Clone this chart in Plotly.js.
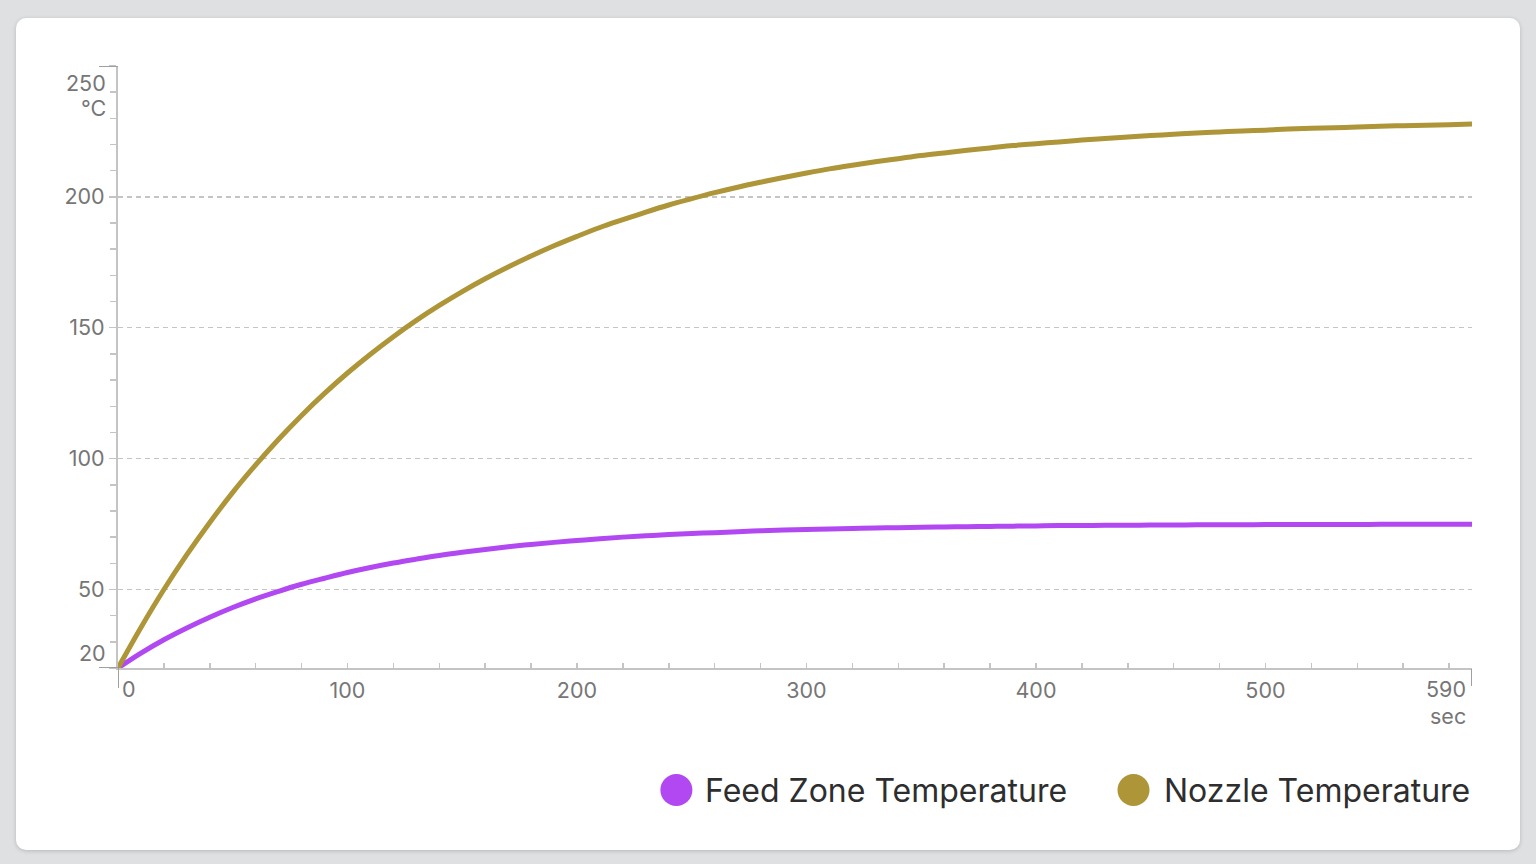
<!DOCTYPE html>
<html>
<head>
<meta charset="utf-8">
<script src="https://cdn.plot.ly/plotly-3.0.1.min.js"></script>
<style>
  html, body { margin:0; padding:0; width:1536px; height:864px; background:#dfe0e2; overflow:hidden; }
  #card { position:absolute; left:16px; top:18px; width:1504px; height:832px; background:#ffffff; border-radius:10px; box-shadow:0 1px 4px rgba(0,0,0,0.18); }
  #chart { position:absolute; left:0; top:0; width:1536px; height:864px; }
</style>
</head>
<body>
<div id="card"></div>
<div id="chart"></div>
<script>
// time in seconds
const timeSec = [0,10,20,30,40,50,60,70,80,90,100,110,120,130,140,150,160,170,180,190,200,210,220,230,240,250,260,270,280,290,300,310,320,330,340,350,360,370,380,390,400,410,420,430,440,450,460,470,480,490,500,510,520,530,540,550,560,570,580,590];
const feedZoneTemp = [20,25.7,30.8,35.3,39.4,43.1,46.4,49.3,52.0,54.3,56.5,58.4,60.1,61.6,63.0,64.2,65.3,66.3,67.2,68.0,68.7,69.4,70.0,70.5,71.0,71.4,71.7,72.1,72.4,72.7,72.9,73.1,73.3,73.5,73.6,73.8,73.9,74.0,74.1,74.2,74.3,74.4,74.4,74.5,74.5,74.6,74.6,74.7,74.7,74.7,74.8,74.8,74.8,74.8,74.8,74.9,74.9,74.9,74.9,74.9];
const nozzleTemp = [20,35.5,50.0,63.3,75.6,87.1,97.6,107.4,116.5,124.9,132.7,139.9,146.6,152.8,158.5,163.8,168.7,173.2,177.4,181.3,184.9,188.3,191.3,194.2,196.9,199.3,201.6,203.7,205.6,207.4,209.1,210.7,212.1,213.4,214.6,215.8,216.8,217.8,218.7,219.6,220.3,221.0,221.7,222.3,222.9,223.4,223.9,224.4,224.8,225.2,225.5,225.9,226.2,226.4,226.7,227.0,227.2,227.4,227.6,227.8];
const seriesNames = ["Feed Zone Temperature", "Nozzle Temperature"];
const seriesColors = ["#b148f2", "#ad9538"];
const yTickVals = [20,50,100,150,200,250];
const yTickText = ["","50","100","150","200",""];
const xTickVals = [0,100,200,300,400,500,590];
const xTickText = ["","100","200","300","400","500",""];
const yUnit = "°C";
const xUnit = "sec";

const tickFont = {family:"Inter, 'Noto Sans', sans-serif", size:21.5, color:"#767676"};
const legendFont = {family:"Inter, 'Noto Sans', sans-serif", size:32, color:"#2e2e2e"};

const traces = [
  {x: timeSec, y: feedZoneTemp, name: seriesNames[0], mode:"lines", line:{color:seriesColors[0], width:5, shape:"spline"}, showlegend:false, hoverinfo:"skip"},
  {x: timeSec, y: nozzleTemp, name: seriesNames[1], mode:"lines", line:{color:seriesColors[1], width:5, shape:"spline"}, showlegend:false, hoverinfo:"skip"}
];

const annotations = [
  {x:0, y:yTickVals[0], xref:"x", yref:"y", text:"20", showarrow:false, xanchor:"right", yanchor:"middle", xshift:-10, yshift:15, font:tickFont},
  {x:0, y:yTickVals[5], xref:"x", yref:"y", text:"250", showarrow:false, xanchor:"right", yanchor:"middle", xshift:-10, yshift:-17, font:tickFont},
  {x:0, y:yTickVals[5], xref:"x", yref:"y", text:yUnit, showarrow:false, xanchor:"right", yanchor:"middle", xshift:-10, yshift:-42, font:tickFont},
  {x:xTickVals[0], y:yTickVals[0], xref:"x", yref:"y", text:"0", showarrow:false, xanchor:"center", yanchor:"middle", xshift:11, yshift:-21, font:tickFont},
  {x:xTickVals[6], y:yTickVals[0], xref:"x", yref:"y", text:"590", showarrow:false, xanchor:"right", yanchor:"middle", xshift:-4, yshift:-21, font:tickFont},
  {x:xTickVals[6], y:yTickVals[0], xref:"x", yref:"y", text:xUnit, showarrow:false, xanchor:"right", yanchor:"middle", xshift:-4, yshift:-48, font:tickFont},
  {x:0.7027, y:-0.2027, xref:"paper", yref:"paper", text:seriesNames[0], showarrow:false, xanchor:"right", yanchor:"middle", font:legendFont},
  {x:1.0, y:-0.2027, xref:"paper", yref:"paper", text:seriesNames[1], showarrow:false, xanchor:"right", yanchor:"middle", font:legendFont}
];

const circlePaperX = [0.4124, 0.7500];
const shapes = [];
for (let i = 0; i < 2; i++) {
  shapes.push({type:"circle", xref:"paper", yref:"paper", xsizemode:"pixel", ysizemode:"pixel",
    xanchor:circlePaperX[i], yanchor:-0.2027, x0:-16, x1:16, y0:-16, y1:16,
    fillcolor:seriesColors[i], line:{width:0}});
}
// axis decorations: long ticks at the corners
shapes.push({type:"line", xref:"paper", yref:"y", xsizemode:"pixel", xanchor:0, x0:-19, x1:0, y0:yTickVals[0], y1:yTickVals[0], line:{color:"#a0a0a0", width:2}});
shapes.push({type:"line", xref:"paper", yref:"y", xsizemode:"pixel", xanchor:0, x0:-19, x1:0, y0:yTickVals[5], y1:yTickVals[5], line:{color:"#a0a0a0", width:2}});
shapes.push({type:"line", xref:"x", yref:"paper", ysizemode:"pixel", yanchor:0, x0:xTickVals[0], x1:xTickVals[0], y0:-20, y1:0, line:{color:"#a0a0a0", width:2}});
shapes.push({type:"line", xref:"x", yref:"paper", ysizemode:"pixel", yanchor:0, x0:xTickVals[6], x1:xTickVals[6], y0:-18, y1:-1, line:{color:"#a0a0a0", width:2}});

const layout = {
  width:1536, height:864,
  paper_bgcolor:"rgba(0,0,0,0)", plot_bgcolor:"rgba(0,0,0,0)",
  margin:{l:117.5, r:64.4, t:66, b:196},
  showlegend:false,
  xaxis:{
    range:[0,590], fixedrange:true,
    tickmode:"array", tickvals:xTickVals, ticktext:xTickText,
    ticks:"inside", ticklen:5, tickwidth:1.5, tickcolor:"#c4c4c4",
    minor:{dtick:20, tick0:0, ticks:"inside", ticklen:5, tickwidth:1.5, tickcolor:"#c4c4c4", showgrid:false},
    showline:true, linecolor:"#c4c4c4", linewidth:2,
    showgrid:false, zeroline:false,
    tickfont:tickFont, ticklabelstandoff:2
  },
  yaxis:{
    range:[20,250], fixedrange:true,
    tickmode:"array", tickvals:yTickVals, ticktext:yTickText,
    ticks:"outside", ticklen:7, tickwidth:1.5, tickcolor:"#c4c4c4",
    minor:{dtick:10, tick0:0, ticks:"outside", ticklen:6, tickwidth:1.5, tickcolor:"#c4c4c4", showgrid:false},
    showline:true, linecolor:"#c4c4c4", linewidth:2,
    showgrid:true, gridcolor:"#c4c4c4", gridwidth:1.5, griddash:"5px,4px",
    zeroline:false,
    tickfont:tickFont, ticklabelstandoff:0
  },
  annotations:annotations,
  shapes:shapes
};

Plotly.newPlot("chart", traces, layout, {staticPlot:true, displayModeBar:false});
</script>
</body>
</html>
